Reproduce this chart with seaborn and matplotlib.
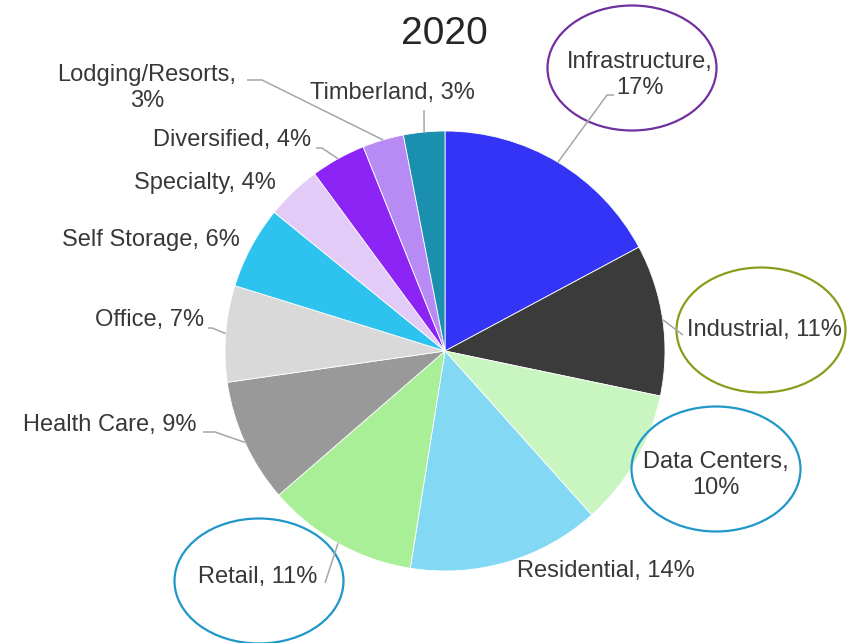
import matplotlib
matplotlib.use("Agg")
import matplotlib.pyplot as plt
from matplotlib.patches import Ellipse
import numpy as np
import seaborn as sns

# ---- data -------------------------------------------------------------
title = "2020"
sectors = ["Infrastructure", "Industrial", "Data Centers", "Residential", "Retail",
           "Health Care", "Office", "Self Storage", "Specialty", "Diversified",
           "Lodging/Resorts", "Timberland"]
shares = [17, 11, 10, 14, 11, 9, 7, 6, 4, 4, 3, 3]
wrapped = ["Infrastructure", "Data Centers", "Lodging/Resorts"]
highlighted = ["Infrastructure", "Industrial", "Data Centers", "Retail"]

# ---- style --------------------------------------------------------------
sns.set_theme(style="white")
plt.rcParams["font.family"] = ["Liberation Sans", "DejaVu Sans"]

slice_colors = ["#3434f6", "#3b3b3b", "#c9f5c1", "#83d8f4", "#a8ef98", "#999999",
                "#d9d9d9", "#2ec3ee", "#e2cbf6", "#8b24f4", "#b88af3", "#1b8fae"]
ring_colors = {"Infrastructure": "#7030a0", "Industrial": "#8c9b1c",
               "Data Centers": "#1f97c9", "Retail": "#1f97c9"}

W, H = 856, 643
CX, CY, R = 445, 351, 220          # pie centre / radius (pixel grid, y down)


def py(y):
    """pixel row -> data y"""
    return H - y


# label anchor (x, y, ha) and leader polyline (pixel grid, from the slice outwards)
label_layout = {
    "Infrastructure": (640, 75, "center", [(607, 95), (614, 95)]),
    "Industrial": (687, 330, "left", [(683, 335)]),
    "Data Centers": (716, 475, "center", None),
    "Residential": (606, 571, "center", None),
    "Retail": (258, 577, "center", [(325, 583)]),
    "Health Care": (197, 425, "right", [(215, 432), (203, 432)]),
    "Office": (204, 320, "right", [(212, 328), (208, 328)]),
    "Self Storage": (240, 240, "right", None),
    "Specialty": (276, 183, "right", None),
    "Diversified": (311, 140, "right", [(322, 148), (316, 148)]),
    "Lodging/Resorts": (147, 88, "center", [(262, 80), (247, 80)]),
    "Timberland": (392, 93, "center", [(424, 110)]),
}
ring_layout = {
    "Infrastructure": (632, 68),
    "Industrial": (761, 330),
    "Data Centers": (716, 469),
    "Retail": (259, 581),
}

fig = plt.figure(figsize=(W / 100, H / 100), dpi=100)
ax = fig.add_axes([0, 0, 1, 1])

wedges, _ = ax.pie(shares, colors=slice_colors, startangle=90, counterclock=False,
                   center=(CX, py(CY)), radius=R,
                   wedgeprops=dict(edgecolor="white", linewidth=0.6))
ax.set_xlim(0, W)
ax.set_ylim(0, H)
ax.set_aspect("equal")
ax.axis("off")

text_color = "#383838"
for name, val, w in zip(sectors, shares, wedges):
    x, y, ha, leader = label_layout[name]
    sep = "\n" if name in wrapped else " "
    ax.text(x, py(y), f"{name},{sep}{val}%", ha=ha, va="center", fontsize=17,
            color=text_color, linespacing=1.25, multialignment="center")
    if leader:
        mid = np.deg2rad((w.theta1 + w.theta2) / 2)
        pts = [(CX + R * np.cos(mid), py(CY) + R * np.sin(mid))]
        pts += [(px, py(qy)) for px, qy in leader]
        xs, ys = zip(*pts)
        ax.plot(xs, ys, color="#a6a6a6", lw=1.1, solid_capstyle="butt")

for name in highlighted:
    ex, ey = ring_layout[name]
    ax.add_patch(Ellipse((ex, py(ey)), 169, 125, fill=False,
                         edgecolor=ring_colors[name], lw=1.6))

ax.text(444, py(34), title, ha="center", va="center", fontsize=28, color="#262626")

fig.savefig("out.png", dpi=100)
